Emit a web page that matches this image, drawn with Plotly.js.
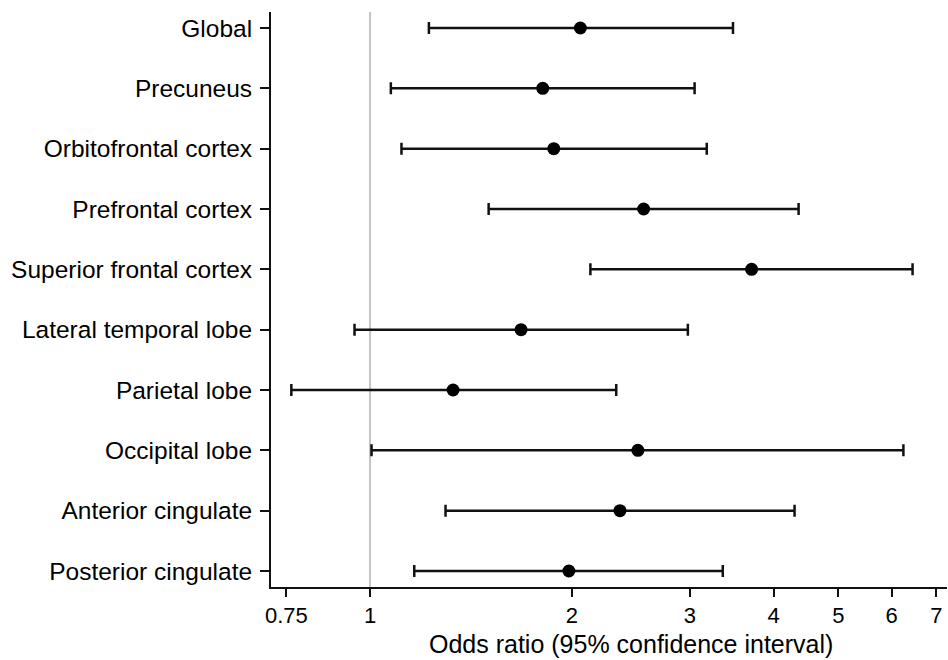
<!DOCTYPE html>
<html>
<head>
<meta charset="utf-8">
<script src="https://cdn.plot.ly/plotly-3.0.1.min.js"></script>
<style>html,body{margin:0;padding:0;background:#fff;}#chart{width:948px;height:660px;}</style>
</head>
<body>
<div id="chart"></div>
<script>
const regions = ["Global","Precuneus","Orbitofrontal cortex","Prefrontal cortex","Superior frontal cortex","Lateral temporal lobe","Parietal lobe","Occipital lobe","Anterior cingulate","Posterior cingulate"];
const oddsRatio = [2.06, 1.81, 1.88, 2.56, 3.71, 1.68, 1.33, 2.51, 2.36, 1.98];
const ciLower  = [1.224, 1.074, 1.114, 1.503, 2.132, 0.948, 0.763, 1.005, 1.296, 1.164];
const ciUpper  = [3.48, 3.05, 3.18, 4.36, 6.45, 2.98, 2.33, 6.25, 4.30, 3.36];
const xTickVals = [0.75, 1, 2, 3, 4, 5, 6, 7];
const xTickText = ["0.75", "1", "2", "3", "4", "5", "6", "7"];
const xTitle = "Odds ratio (95% confidence interval)";

const font = "Liberation Sans, Arial, Helvetica, sans-serif";

const trace = {
  type: "scatter",
  mode: "markers",
  x: oddsRatio,
  y: regions,
  marker: {color: "#000", size: 13, line: {width: 0}},
  error_x: {
    type: "data", symmetric: false,
    array: oddsRatio.map((v, i) => ciUpper[i] - v),
    arrayminus: oddsRatio.map((v, i) => v - ciLower[i]),
    color: "#111", thickness: 2.5, width: 6
  },
  hoverinfo: "x+y"
};

const layout = {
  width: 948, height: 660,
  margin: {l: 271, r: 1, t: 12, b: 73},
  paper_bgcolor: "#fff", plot_bgcolor: "#fff",
  showlegend: false,
  font: {family: font, size: 24, color: "#000"},
  xaxis: {
    type: "log",
    range: [Math.log10(0.7115), Math.log10(7.26)],
    tickvals: xTickVals, ticktext: xTickText,
    ticks: "outside", ticklen: 8, tickwidth: 2, tickcolor: "#111",
    showline: true, linecolor: "#111", linewidth: 2,
    showgrid: false, zeroline: false,
    tickfont: {family: font, size: 22, color: "#000"}
  },
  yaxis: {
    type: "category",
    categoryorder: "array", categoryarray: regions,
    range: [9.265, -0.265],
    ticks: "outside", ticklen: 9, tickwidth: 2, tickcolor: "#111",
    showline: true, linecolor: "#111", linewidth: 2,
    showgrid: false, zeroline: false,
    ticklabelstandoff: 3,
    tickfont: {family: font, size: 24.5, color: "#000"}
  },
  annotations: [{
    text: xTitle, xref: "paper", yref: "paper",
    x: 0.5325, y: -0.1252, xanchor: "center", yanchor: "bottom",
    borderpad: 0,
    showarrow: false, font: {family: font, size: 25, color: "#000"}
  }],
  shapes: [{
    type: "line", xref: "x", yref: "paper",
    x0: 1, x1: 1, y0: 0, y1: 1,
    line: {color: "#c4c4c4", width: 2},
    layer: "below"
  }]
};

Plotly.newPlot("chart", [trace], layout, {displayModeBar: false, staticPlot: true});
</script>
</body>
</html>
